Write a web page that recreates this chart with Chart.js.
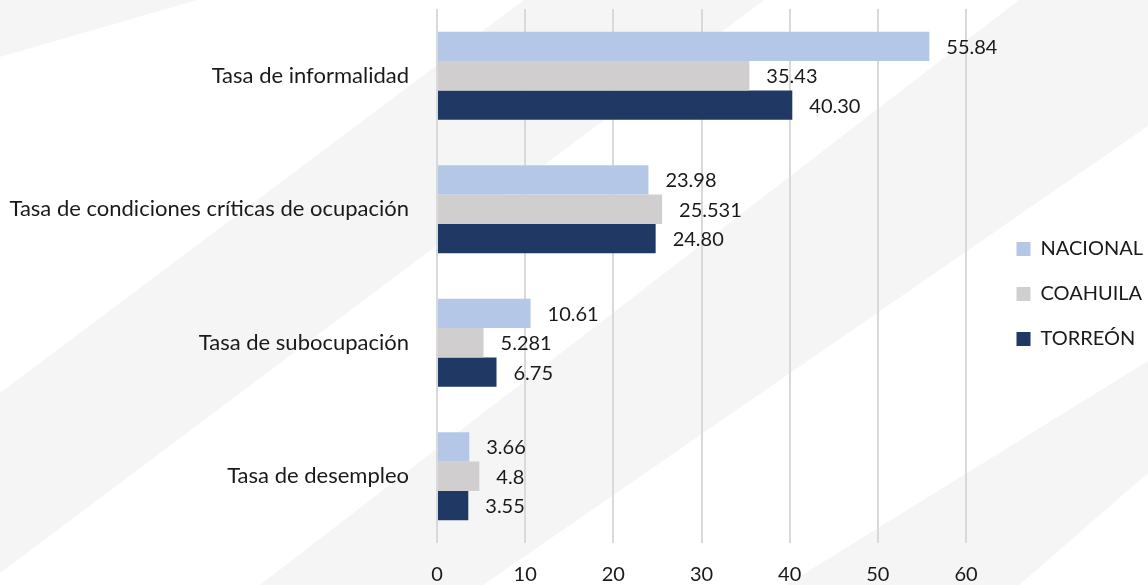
<!DOCTYPE html>
<html><head><meta charset="utf-8">
<script src="https://cdn.jsdelivr.net/npm/chart.js@4"></script>
<style>html,body{margin:0;padding:0;background:#fff}#wrap{width:1148px;height:585px}</style>
</head><body><div id="wrap"><canvas id="c" width="1148" height="585"></canvas></div>
<script>
const categories = ['Tasa de informalidad', 'Tasa de condiciones críticas de ocupación', 'Tasa de subocupación', 'Tasa de desempleo'];
const seriesNames = ['NACIONAL', 'COAHUILA', 'TORREÓN'];
const nacional = ['55.84', '23.98', '10.61', '3.66'];
const coahuila = ['35.43', '25.531', '5.281', '4.8'];
const torreon = ['40.30', '24.80', '6.75', '3.55'];
const xTicks = [0, 10, 20, 30, 40, 50, 60];

const colors = ['#b4c7e7', '#d0cece', '#203864'];
const FONT = 'Lato';
const TEXT = '#1a1a1a';

const seriesVals = [nacional, coahuila, torreon];
const datasets = seriesNames.map((n, i) => ({
  label: n,
  data: seriesVals[i].map(Number),
  valueText: seriesVals[i],
  backgroundColor: colors[i],
  borderWidth: 0,
  categoryPercentage: 0.66,
  barPercentage: 1.0
}));

const bgPlugin = {
  id: 'bg',
  beforeDraw(chart) {
    const ctx = chart.ctx;
    ctx.save();
    ctx.fillStyle = '#ffffff';
    ctx.fillRect(0, 0, chart.width, chart.height);
    ctx.fillStyle = '#f5f5f5';
    const polys = [
      [[0,0],[197,0],[0,57]],
      [[0,393],[524,0],[764,0],[0,573]],
      [[260,585],[1019,0],[1148,0],[1148,126],[483,585]],
      [[786,585],[1148,361],[1148,473],[1019,585]]
    ];
    polys.forEach(p => {
      ctx.beginPath();
      p.forEach((pt, k) => k ? ctx.lineTo(pt[0], pt[1]) : ctx.moveTo(pt[0], pt[1]));
      ctx.closePath();
      ctx.fill();
    });
    ctx.restore();
  }
};

const labelPlugin = {
  id: 'vals',
  afterLayout(chart) {
    if (chart.legend) { chart.legend.top -= 3; chart.legend.bottom -= 3; }
  },
  afterDatasetsDraw(chart) {
    const ctx = chart.ctx;
    ctx.save();
    ctx.font = '20px ' + FONT;
    ctx.fillStyle = TEXT;
    ctx.textAlign = 'left';
    ctx.textBaseline = 'middle';
    chart.data.datasets.forEach((ds, i) => {
      chart.getDatasetMeta(i).data.forEach((bar, j) => {
        ctx.fillText(ds.valueText[j], bar.x + 17, bar.y + 1);
      });
    });
    ctx.restore();
  }
};

const chart = new Chart(document.getElementById('c'), {
  type: 'bar',
  data: { labels: categories, datasets },
  plugins: [bgPlugin, labelPlugin],
  options: {
    indexAxis: 'y',
    responsive: false,
    animation: false,
    layout: { autoPadding: false, padding: { top: 9, right: -5, left: 0, bottom: 0 } },
    plugins: {
      tooltip: { enabled: false },
      legend: {
        position: 'right',
        align: 'center',
        labels: {
          boxWidth: 14, boxHeight: 14, padding: 25,
          color: TEXT,
          font: { family: FONT, size: 20 }
        }
      }
    },
    scales: {
      x: {
        min: 0, max: 62,
        afterBuildTicks(s) { s.ticks = xTicks.map(v => ({ value: v })); },
        afterFit(s) { s.height = 42; s.paddingLeft = 0; s.paddingRight = 0; },
        grid: { color: '#d9d9d9', lineWidth: 2, drawTicks: false },
        border: { display: false },
        ticks: { padding: 20, color: TEXT, font: { family: FONT, size: 20 } }
      },
      y: {
        afterFit(s) { s.width = 437; s.paddingTop = 0; s.paddingBottom = 0; },
        grid: { display: false, drawTicks: false },
        border: { display: false },
        ticks: { padding: 28, color: TEXT, font: { family: FONT, size: 22 } }
      }
    }
  }
});
const pxPerUnit = (966 - 437) / 60;
chart.options.scales.x.max = (chart.chartArea.right - chart.chartArea.left) / pxPerUnit;
chart.update();
</script>
</body></html>
